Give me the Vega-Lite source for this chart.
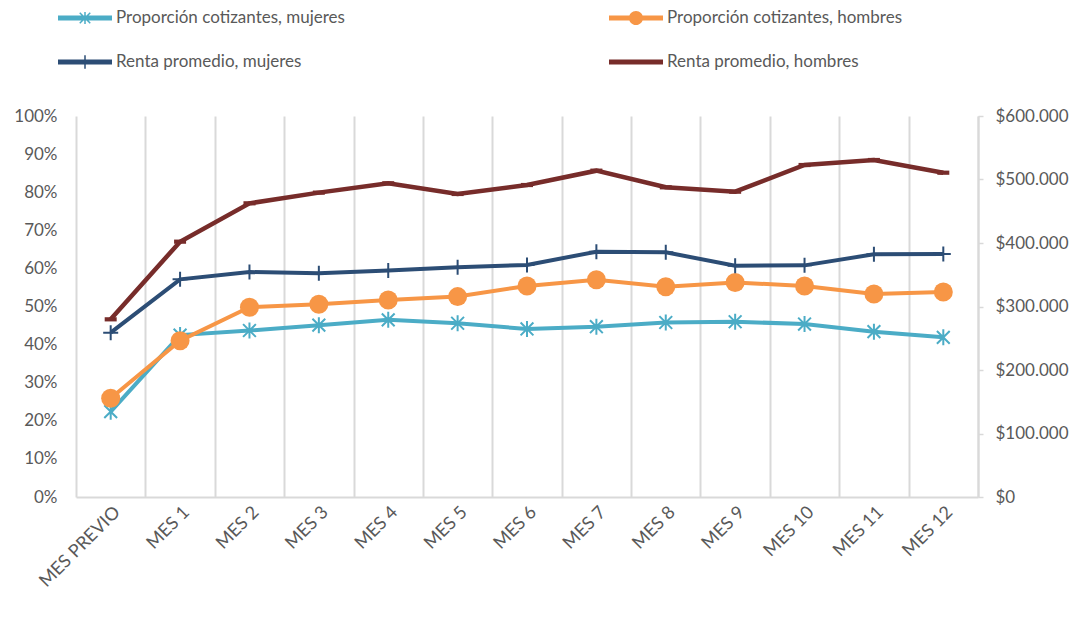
{
  "$schema": "https://vega.github.io/schema/vega-lite/v6.json",
  "width": 902,
  "height": 381,
  "autosize": {"type": "none"},
  "padding": {"left": 76, "top": 116, "right": 108, "bottom": 133},
  "config": {
    "view": {"stroke": null},
    "font": "Lato",
    "axis": {"labelFont": "Lato", "labelFontSize": 17, "labelColor": "#595959"}
  },
  "data": {
    "values": [
      {"mes": "MES PREVIO", "serie": "Proporción cotizantes, mujeres", "valor": 0.224},
      {"mes": "MES 1", "serie": "Proporción cotizantes, mujeres", "valor": 0.425},
      {"mes": "MES 2", "serie": "Proporción cotizantes, mujeres", "valor": 0.437},
      {"mes": "MES 3", "serie": "Proporción cotizantes, mujeres", "valor": 0.451},
      {"mes": "MES 4", "serie": "Proporción cotizantes, mujeres", "valor": 0.465},
      {"mes": "MES 5", "serie": "Proporción cotizantes, mujeres", "valor": 0.456},
      {"mes": "MES 6", "serie": "Proporción cotizantes, mujeres", "valor": 0.441},
      {"mes": "MES 7", "serie": "Proporción cotizantes, mujeres", "valor": 0.447},
      {"mes": "MES 8", "serie": "Proporción cotizantes, mujeres", "valor": 0.458},
      {"mes": "MES 9", "serie": "Proporción cotizantes, mujeres", "valor": 0.460},
      {"mes": "MES 10", "serie": "Proporción cotizantes, mujeres", "valor": 0.454},
      {"mes": "MES 11", "serie": "Proporción cotizantes, mujeres", "valor": 0.434},
      {"mes": "MES 12", "serie": "Proporción cotizantes, mujeres", "valor": 0.419},
      {"mes": "MES PREVIO", "serie": "Proporción cotizantes, hombres", "valor": 0.259},
      {"mes": "MES 1", "serie": "Proporción cotizantes, hombres", "valor": 0.410},
      {"mes": "MES 2", "serie": "Proporción cotizantes, hombres", "valor": 0.498},
      {"mes": "MES 3", "serie": "Proporción cotizantes, hombres", "valor": 0.506},
      {"mes": "MES 4", "serie": "Proporción cotizantes, hombres", "valor": 0.517},
      {"mes": "MES 5", "serie": "Proporción cotizantes, hombres", "valor": 0.526},
      {"mes": "MES 6", "serie": "Proporción cotizantes, hombres", "valor": 0.554},
      {"mes": "MES 7", "serie": "Proporción cotizantes, hombres", "valor": 0.570},
      {"mes": "MES 8", "serie": "Proporción cotizantes, hombres", "valor": 0.552},
      {"mes": "MES 9", "serie": "Proporción cotizantes, hombres", "valor": 0.563},
      {"mes": "MES 10", "serie": "Proporción cotizantes, hombres", "valor": 0.554},
      {"mes": "MES 11", "serie": "Proporción cotizantes, hombres", "valor": 0.533},
      {"mes": "MES 12", "serie": "Proporción cotizantes, hombres", "valor": 0.538},
      {"mes": "MES PREVIO", "serie": "Renta promedio, mujeres", "valor": 258800},
      {"mes": "MES 1", "serie": "Renta promedio, mujeres", "valor": 342800},
      {"mes": "MES 2", "serie": "Renta promedio, mujeres", "valor": 354300},
      {"mes": "MES 3", "serie": "Renta promedio, mujeres", "valor": 352300},
      {"mes": "MES 4", "serie": "Renta promedio, mujeres", "valor": 356500},
      {"mes": "MES 5", "serie": "Renta promedio, mujeres", "valor": 361700},
      {"mes": "MES 6", "serie": "Renta promedio, mujeres", "valor": 365400},
      {"mes": "MES 7", "serie": "Renta promedio, mujeres", "valor": 386300},
      {"mes": "MES 8", "serie": "Renta promedio, mujeres", "valor": 385300},
      {"mes": "MES 9", "serie": "Renta promedio, mujeres", "valor": 364300},
      {"mes": "MES 10", "serie": "Renta promedio, mujeres", "valor": 364800},
      {"mes": "MES 11", "serie": "Renta promedio, mujeres", "valor": 382200},
      {"mes": "MES 12", "serie": "Renta promedio, mujeres", "valor": 382700},
      {"mes": "MES PREVIO", "serie": "Renta promedio, hombres", "valor": 279800},
      {"mes": "MES 1", "serie": "Renta promedio, hombres", "valor": 402100},
      {"mes": "MES 2", "serie": "Renta promedio, hombres", "valor": 462500},
      {"mes": "MES 3", "serie": "Renta promedio, hombres", "valor": 479300},
      {"mes": "MES 4", "serie": "Renta promedio, hombres", "valor": 494000},
      {"mes": "MES 5", "serie": "Renta promedio, hombres", "valor": 477200},
      {"mes": "MES 6", "serie": "Renta promedio, hombres", "valor": 491300},
      {"mes": "MES 7", "serie": "Renta promedio, hombres", "valor": 513900},
      {"mes": "MES 8", "serie": "Renta promedio, hombres", "valor": 487700},
      {"mes": "MES 9", "serie": "Renta promedio, hombres", "valor": 480800},
      {"mes": "MES 10", "serie": "Renta promedio, hombres", "valor": 522800},
      {"mes": "MES 11", "serie": "Renta promedio, hombres", "valor": 530700},
      {"mes": "MES 12", "serie": "Renta promedio, hombres", "valor": 510700}
    ]
  },
  "encoding": {
    "x": {
      "field": "mes",
      "type": "nominal",
      "sort": ["MES PREVIO", "MES 1", "MES 2", "MES 3", "MES 4", "MES 5", "MES 6", "MES 7", "MES 8", "MES 9", "MES 10", "MES 11", "MES 12"],
      "scale": {"type": "band", "paddingInner": 0, "paddingOuter": 0},
      "bandPosition": 0.5,
      "axis": {
        "title": null,
        "labelAngle": -45,
        "labelFontSize": 18,
        "tickBand": "extent",
        "grid": true,
        "gridColor": "#d9d9d9",
        "gridWidth": 2,
        "ticks": false,
        "domainColor": "#d9d9d9",
        "domainWidth": 2,
        "labelPadding": 6
      }
    }
  },
  "layer": [
    {
      "transform": [{"filter": {"field": "serie", "oneOf": ["Proporción cotizantes, mujeres", "Proporción cotizantes, hombres"]}}],
      "encoding": {
        "y": {
          "field": "valor",
          "type": "quantitative",
          "scale": {"domain": [0, 1]},
          "axis": {
            "orient": "left",
            "format": ".0%",
            "values": [0, 0.1, 0.2, 0.3, 0.4, 0.5, 0.6, 0.7, 0.8, 0.9, 1],
            "title": null,
            "grid": false,
            "domain": false,
            "ticks": false,
            "labelPadding": 19
          }
        }
      },
      "layer": [
        {
          "transform": [{"filter": {"field": "serie", "equal": "Proporción cotizantes, mujeres"}}],
          "mark": {"type": "line", "color": "#4bacc6", "strokeWidth": 4}
        },
        {
          "transform": [{"filter": {"field": "serie", "equal": "Proporción cotizantes, mujeres"}}],
          "mark": {"type": "point", "shape": "M0,-1V1M-0.8,-0.8L0.8,0.8M-0.8,0.8L0.8,-0.8", "filled": false, "size": 256, "color": "#4bacc6", "strokeWidth": 2, "opacity": 1}
        },
        {
          "transform": [{"filter": {"field": "serie", "equal": "Proporción cotizantes, hombres"}}],
          "mark": {"type": "line", "color": "#f79646", "strokeWidth": 4}
        },
        {
          "transform": [{"filter": {"field": "serie", "equal": "Proporción cotizantes, hombres"}}],
          "mark": {"type": "point", "shape": "circle", "filled": true, "size": 361, "color": "#f79646", "opacity": 1}
        }
      ]
    },
    {
      "transform": [{"filter": {"field": "serie", "oneOf": ["Renta promedio, mujeres", "Renta promedio, hombres"]}}],
      "encoding": {
        "y": {
          "field": "valor",
          "type": "quantitative",
          "scale": {"domain": [0, 600000]},
          "axis": {
            "orient": "right",
            "values": [0, 100000, 200000, 300000, 400000, 500000, 600000],
            "labelExpr": "'$' + replace(format(datum.value, ',.0f'), ',', '.')",
            "title": null,
            "grid": false,
            "domainColor": "#d9d9d9",
            "domainWidth": 2,
            "tickColor": "#d9d9d9",
            "tickSize": 5,
            "tickWidth": 1.5,
            "labelPadding": 12
          }
        }
      },
      "layer": [
        {
          "transform": [{"filter": {"field": "serie", "equal": "Renta promedio, mujeres"}}],
          "mark": {"type": "line", "color": "#2c4d75", "strokeWidth": 4}
        },
        {
          "transform": [{"filter": {"field": "serie", "equal": "Renta promedio, mujeres"}}],
          "mark": {"type": "point", "shape": "M-1,0H1M0,-1V1", "filled": false, "size": 225, "color": "#2c4d75", "strokeWidth": 2, "opacity": 1}
        },
        {
          "transform": [{"filter": {"field": "serie", "equal": "Renta promedio, hombres"}}],
          "mark": {"type": "line", "color": "#772c2a", "strokeWidth": 4.5}
        },
        {
          "transform": [{"filter": {"field": "serie", "equal": "Renta promedio, hombres"}}],
          "mark": {"type": "point", "shape": "M-1,-0.35H1V0.35H-1Z", "filled": true, "size": 144, "color": "#772c2a", "opacity": 1}
        }
      ]
    },
    {
      "transform": [{"filter": "false"}],
      "mark": {"type": "point", "filled": true, "opacity": 1, "size": 900},
      "encoding": {
        "color": {
          "field": "serie",
          "type": "nominal",
          "scale": {
            "domain": ["Proporción cotizantes, mujeres", "Renta promedio, mujeres", "Proporción cotizantes, hombres", "Renta promedio, hombres"],
            "range": ["#4bacc6", "#2c4d75", "#f79646", "#772c2a"]
          },
          "legend": {
            "orient": "none",
            "legendX": -18,
            "legendY": -113,
            "columns": 2,
            "columnPadding": 264,
            "rowPadding": 21,
            "symbolSize": 900,
            "symbolStrokeWidth": 0,
            "labelOffset": 28,
            "labelFont": "Lato",
            "labelFontSize": 17,
            "labelColor": "#595959",
            "labelLimit": 400,
            "title": null,
            "padding": 0
          }
        },
        "shape": {
          "field": "serie",
          "type": "nominal",
          "scale": {
            "domain": ["Proporción cotizantes, mujeres", "Renta promedio, mujeres", "Proporción cotizantes, hombres", "Renta promedio, hombres"],
            "range": [
              "M-1,-0.17H2.6V0.17H-1Z M0.75,-0.4H0.85V0.4H0.75Z M0.485,-0.385L1.185,0.315L1.115,0.385L0.415,-0.315Z M0.415,0.315L1.115,-0.385L1.185,-0.315L0.485,0.385Z",
              "M-1,-0.17H2.6V0.17H-1Z M0.75,-0.45H0.85V0.45H0.75Z",
              "M-1,-0.17H2.6V0.17H-1Z M1.27,0A0.47,0.47 0 1 1 0.33,0A0.47,0.47 0 1 1 1.27,0Z",
              "M-1,-0.17H2.6V0.17H-1Z"
            ]
          },
          "legend": {
            "orient": "none",
            "legendX": -18,
            "legendY": -113,
            "columns": 2,
            "columnPadding": 264,
            "rowPadding": 21,
            "symbolSize": 900,
            "symbolStrokeWidth": 0,
            "labelOffset": 28,
            "labelFont": "Lato",
            "labelFontSize": 17,
            "labelColor": "#595959",
            "labelLimit": 400,
            "title": null,
            "padding": 0
          }
        }
      }
    }
  ],
  "resolve": {"scale": {"y": "independent"}}
}
